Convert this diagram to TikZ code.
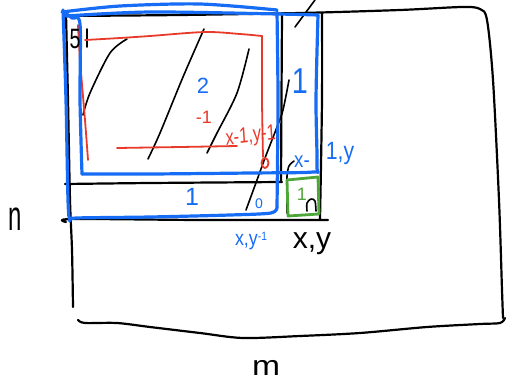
\documentclass[tikz,border=0pt]{standalone}
\usepackage{fontspec}
\setmainfont{Liberation Sans}
\definecolor{penblue}{RGB}{22,108,245}
\definecolor{penred}{RGB}{232,58,42}
\definecolor{pengreen}{RGB}{78,166,56}
\tikzset{
  blk/.style={draw=black,line width=2.2pt,line cap=round,line join=round},
  thin blk/.style={draw=black,line width=1.6pt,line cap=round,line join=round},
  blu/.style={draw=penblue,line width=3.2pt,line cap=round,line join=round},
  rd/.style={draw=penred,line width=1.8pt,line cap=round,line join=round},
  grn/.style={draw=pengreen,line width=2.8pt,line cap=round,line join=round},
  lbl/.style={inner sep=0pt,outer sep=0pt,anchor=base},
}
\newcommand{\fsz}[1]{\fontsize{#1}{#1}\selectfont}
\begin{document}
\begin{tikzpicture}[x=1pt,y=-1pt]
\useasboundingbox (0,0) rectangle (509,381);
% ---------- black grid ----------
\draw[blk] plot[smooth] coordinates {(63,16) (180,15) (300,13) (400,10) (462,7) (480,9) (487,20) (493,80) (499,200) (502,290) (503,318)};
\draw[blk] plot[smooth] coordinates {(505,318) (500,323) (480,324) (427,327) (360,333) (300,336) (243,338) (200,333) (150,327) (117,323) (85,323) (78,320)};
\draw[blk] plot[smooth] coordinates {(66,14) (68,100) (70,200) (72,250) (73,307)};
\draw[blk] plot[smooth] coordinates {(65,184) (150,183) (282,182)};
\draw[blk] plot[smooth] coordinates {(66,222) (72,219) (200,220) (328,220)};
\draw[blk] (282,13) -- (281,182);
\draw[blk] plot[smooth] coordinates {(322,13) (322,100) (320,220)};
\draw[thin blk] plot[smooth] coordinates {(294,161) (289,166) (287,176) (287,192) (287,213)};
\draw[thin blk] (315,0) -- (295,27);
% hatching
\draw[thin blk] plot[smooth] coordinates {(127,39) (110,53) (90,93) (83,115)};
\draw[thin blk] plot[smooth] coordinates {(204,29) (183,77) (160,133) (148,159)};
\draw[thin blk] plot[smooth] coordinates {(249,49) (237,93) (217,133) (207,153)};
\draw[thin blk] plot[smooth] coordinates {(289,80) (283,110) (277,127) (265,158) (257,180) (246,210)};
\draw[thin blk] plot[smooth] coordinates {(307,211) (307,203) (311,199) (315,201) (316,211)};
\draw[thin blk] (87,29) -- (87,47);
% ---------- red ----------
\draw[rd] plot[smooth] coordinates {(78,25) (80,60) (85,120) (88,160)};
\draw[rd] plot[smooth] coordinates {(85,40) (120,38) (150,36) (205,32) (240,34) (262,36)};
\draw[rd] plot[smooth] coordinates {(262,36) (262,100) (263,157)};
\draw[rd] plot[smooth] coordinates {(117,148) (180,147) (237,146)};
\draw[rd] (265,163) ellipse[x radius=3.5pt,y radius=5pt];
% ---------- blue ----------
\draw[blu] plot[smooth] coordinates {(62,12) (120,6) (200,4) (277,10)};
\draw[blu] plot[smooth] coordinates {(66,16) (150,12) (278,14) (318,15)};
\draw[blu] plot[smooth] coordinates {(318,15) (316,100) (317,166) (313,172) (250,173) (150,174) (82,174)};
\draw[blu] plot[smooth] coordinates {(82,174) (80,100) (80,24) (72,18) (63,11)};
\draw[blu] plot[smooth] coordinates {(63,10) (66,100) (68,200) (70,220) (76,218) (150,217) (230,215) (271,213) (277,207)};
\draw[blu] plot[smooth] coordinates {(277,207) (278,100) (277,12)};
% ---------- green ----------
\draw[grn] (287,180) -- (318,177) -- (319,214) -- (288,216) -- cycle;
% ---------- labels ----------
\node[lbl,text=penblue,font=\fsz{22}] (t2) at (203,93) {2};
\node[lbl,text=penblue,font=\fsz{36},xscale=0.8] (tcol) at (300,93) {1};
\node[lbl,text=penblue,font=\fsz{25}] (trow) at (192,205) {1};
\node[lbl,text=penblue,font=\fsz{14}] (tzero) at (259,208) {0};
\node[lbl,text=penblue,font=\fsz{21},xscale=0.85] (txy1) at (251,245) {x,y\raisebox{5pt}{\fsz{12}-1}};
\node[lbl,text=penblue,font=\fsz{22},xscale=0.85] (txm) at (302,167) {x-};
\node[lbl,text=penblue,font=\fsz{25},xscale=0.85] (t1y) at (340,159) {1,y};
\node[lbl,text=penred,font=\fsz{18}] (tm1) at (204,123) {-1};
\node[lbl,text=penred,font=\fsz{22},xscale=0.75,rotate=5,anchor=base west] (txyr) at (226,145) {x-1,y-1};
\node[lbl,text=pengreen,font=\fsz{18}] (tg1) at (302,200) {1};
\node[lbl,text=black,font=\fsz{30}] (txy) at (312,248) {x,y};
\node[lbl,text=black,font=\fsz{24},yscale=1.75] (tn) at (15,230) {n};
\node[lbl,text=black,font=\fsz{28},xscale=1.2] (tmm) at (266,375) {m};
\node[lbl,text=black,font=\fsz{28},xscale=0.7] (t5) at (75,48) {5};
\end{tikzpicture}
\end{document}
